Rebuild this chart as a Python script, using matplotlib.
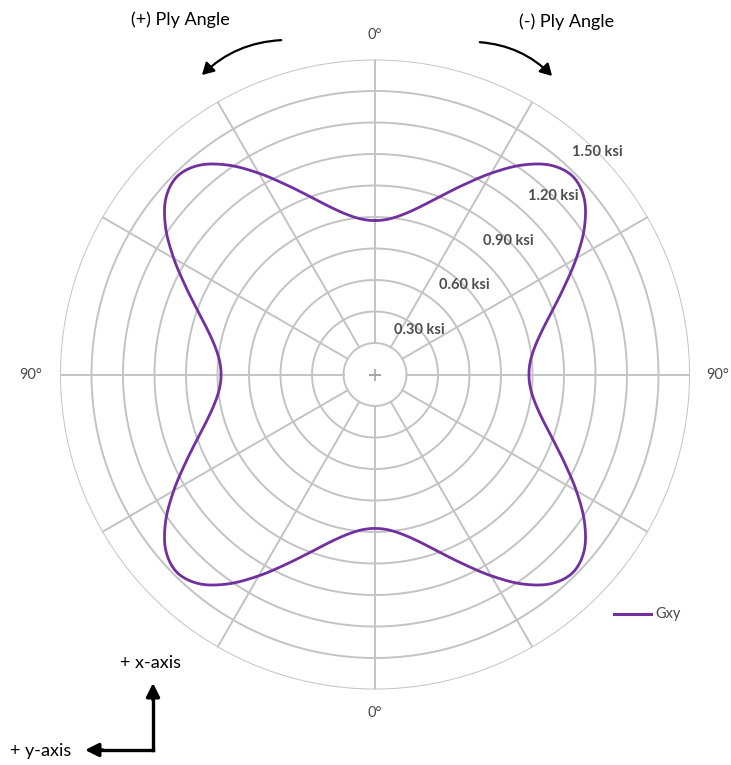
import numpy as np
import matplotlib.pyplot as plt
from matplotlib.patches import FancyArrowPatch

# Shear modulus Gxy of a ply versus ply angle (degrees, every 5 degrees)
ply_angle_deg = np.arange(0, 360, 5)
gxy_ksi = [
    0.733, 0.743, 0.774, 0.826, 0.901, 0.996, 1.107, 1.217, 1.301,
    1.333, 1.301, 1.217, 1.107, 0.996, 0.901, 0.826, 0.774, 0.743,
    0.733, 0.743, 0.774, 0.826, 0.901, 0.996, 1.107, 1.217, 1.301,
    1.333, 1.301, 1.217, 1.107, 0.996, 0.901, 0.826, 0.774, 0.743,
    0.733, 0.743, 0.774, 0.826, 0.901, 0.996, 1.107, 1.217, 1.301,
    1.333, 1.301, 1.217, 1.107, 0.996, 0.901, 0.826, 0.774, 0.743,
    0.733, 0.743, 0.774, 0.826, 0.901, 0.996, 1.107, 1.217, 1.301,
    1.333, 1.301, 1.217, 1.107, 0.996, 0.901, 0.826, 0.774, 0.743,
]

ring_values = [0.15, 0.30, 0.45, 0.60, 0.75, 0.90, 1.05, 1.20, 1.35, 1.50]
label_values = [0.30, 0.60, 0.90, 1.20, 1.50]
label_texts = ["0.30 ksi", "0.60 ksi", "0.90 ksi", "1.20 ksi", "1.50 ksi"]
spoke_angles_deg = np.arange(0, 360, 30)
series_name = "Gxy"

W, H, DPI = 731, 765, 100
GRID = "#c3c3c3"
TXT = "#4a4a4a"
PURPLE = "#7030a0"
FONT = "Lato"


def smooth_closed(theta, r, steps=12):
    """Closed Catmull-Rom curve through polar points, smoothed in x/y space."""
    x = r * np.sin(theta)
    y = r * np.cos(theta)
    n = len(x)
    t = np.linspace(0, 1, steps, endpoint=False)[:, None]
    xs, ys = [], []
    for i in range(n):
        p0 = np.array([x[i - 1], y[i - 1]])
        p1 = np.array([x[i], y[i]])
        p2 = np.array([x[(i + 1) % n], y[(i + 1) % n]])
        p3 = np.array([x[(i + 2) % n], y[(i + 2) % n]])
        seg = 0.5 * ((2 * p1) + (-p0 + p2) * t
                     + (2 * p0 - 5 * p1 + 4 * p2 - p3) * t ** 2
                     + (-p0 + 3 * p1 - 3 * p2 + p3) * t ** 3)
        xs.append(seg[:, 0])
        ys.append(seg[:, 1])
    xs = np.concatenate(xs + [[x[0]]])
    ys = np.concatenate(ys + [[y[0]]])
    return np.arctan2(xs, ys), np.hypot(xs, ys)


fig = plt.figure(figsize=(W / DPI, H / DPI), dpi=DPI)

# polar plotting area in pixel terms
cx, cy, R = 375, 374.5, 315
ax = fig.add_axes([(cx - R) / W, (H - cy - R) / H, 2 * R / W, 2 * R / H],
                  projection="polar")
ax.set_theta_zero_location("N")
ax.set_theta_direction(-1)
ax.set_ylim(0, 1.5)
ax.grid(False)
ax.set_xticks([])
ax.set_yticks([])
ax.spines["polar"].set_visible(False)
ax.patch.set_alpha(0)

# rings and spokes
tfine = np.linspace(0, 2 * np.pi, 721)
for v in ring_values:
    ax.plot(tfine, np.full_like(tfine, v), color=GRID, lw=1.4, zorder=1)
for a in spoke_angles_deg:
    ax.plot([np.deg2rad(a)] * 2, [ring_values[0], ring_values[-1]],
            color=GRID, lw=1.4, zorder=1)
ax.plot([0], [0], marker="+", ms=9, mew=1.2, color="#a6a6a6", zorder=2)

# radial value labels along 45 degrees
for v, t in zip(label_values, label_texts):
    ax.text(np.deg2rad(45), v, t, ha="center", va="center", fontsize=10.5,
            fontweight="bold", color="#4d4d4d", family=FONT, zorder=4)

# data series as a smooth closed loop
th_s, r_s = smooth_closed(np.deg2rad(ply_angle_deg), np.asarray(gxy_ksi, float))
ax.plot(th_s, r_s, color=PURPLE, lw=2.0, zorder=3)

# overlay for annotations in pixel coordinates
ov = fig.add_axes([0, 0, 1, 1])
ov.set_xlim(0, W)
ov.set_ylim(H, 0)
ov.axis("off")
ov.patch.set_alpha(0)

for (x, y, s) in [(375, 35, "0°"), (375, 713, "0°"), (31, 375, "90°"), (718, 375, "90°")]:
    ov.text(x, y, s, ha="center", va="center", fontsize=10.5, color=TXT, family=FONT)

ov.text(180, 20, "(+) Ply Angle", ha="center", va="center", fontsize=13,
        color="black", family=FONT)
ov.text(567, 22, "(-) Ply Angle", ha="center", va="center", fontsize=13,
        color="black", family=FONT)

ov.add_patch(FancyArrowPatch((284, 40), (200, 77), connectionstyle="arc3,rad=0.2",
                             arrowstyle="-|>,head_length=7,head_width=4",
                             color="black", lw=1.6))
ov.add_patch(FancyArrowPatch((477, 42), (554, 78), connectionstyle="arc3,rad=-0.2",
                             arrowstyle="-|>,head_length=7,head_width=4",
                             color="black", lw=1.6))

# axis orientation key
ov.text(150, 663, "+ x-axis", ha="center", va="center", fontsize=13,
        color="black", family=FONT)
ov.text(41, 751, "+ y-axis", ha="center", va="center", fontsize=13,
        color="black", family=FONT)
ov.plot([153, 153], [750, 697], color="black", lw=2.4, solid_capstyle="projecting")
ov.plot([153, 100], [750, 750], color="black", lw=2.4, solid_capstyle="projecting")
ov.add_patch(FancyArrowPatch((153, 700), (153, 683), arrowstyle="-|>,head_length=8,head_width=4",
                             color="black", lw=2.4, shrinkA=0, shrinkB=0))
ov.add_patch(FancyArrowPatch((103, 750), (85, 750), arrowstyle="-|>,head_length=8,head_width=4",
                             color="black", lw=2.4, shrinkA=0, shrinkB=0))

# legend entry
ov.plot([614, 651], [614, 614], color=PURPLE, lw=2.2)
ov.text(655, 614, series_name, ha="left", va="center", fontsize=10.5, color=TXT, family=FONT)

fig.savefig("out.png", dpi=DPI)
